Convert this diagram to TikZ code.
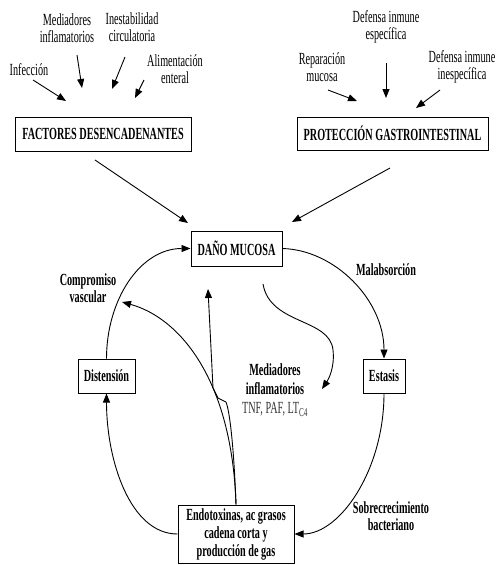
\documentclass[tikz,border=0pt]{standalone}
\usepackage{fontspec}
\setmainfont{Liberation Serif}[FakeStretch=0.6]
\usetikzlibrary{arrows.meta}
\begin{document}
\begin{tikzpicture}[x=1pt,y=-1pt,
  box/.style={draw, line width=1pt, inner sep=0pt, align=center, font=\bfseries\fontsize{17}{18}\selectfont},
  lbl/.style={align=center, inner sep=0pt, font=\fontsize{17}{17}\selectfont},
  blbl/.style={align=center, inner sep=0pt, font=\bfseries\fontsize{17}{17}\selectfont},
  arr/.style={line width=0.9pt, -{Triangle[length=9pt,width=7pt]}}]
\useasboundingbox (0,0) rectangle (497,565);

% boxes
\node[box, minimum width=176pt, minimum height=34pt] (fac) at (103,134) {FACTORES DESENCADENANTES};
\node[box, minimum width=191pt, minimum height=33pt] (pro) at (392.5,133.5) {PROTECCIÓN GASTROINTESTINAL};
\node[box, minimum width=91pt, minimum height=35pt] (dan) at (236.5,248.5) {DAÑO MUCOSA};
\node[box, minimum width=57pt, minimum height=34pt] (dis) at (106.5,376) {Distensión};
\node[box, minimum width=42pt, minimum height=34pt] (est) at (384,376) {Estasis};
\node[box, minimum width=116pt, minimum height=58pt] (end) at (236,534) {Endotoxinas, ac grasos\\cadena corta y\\producción de gas};

% labels
\node[lbl] (inf) at (29,70) {Infección};
\node[lbl] (med) at (67,28) {Mediadores\\inflamatorios};
\node[lbl] (ine) at (132,27) {Inestabilidad\\circulatoria};
\node[lbl] (ali) at (175,69) {Alimentación\\enteral};
\node[lbl] (dee) at (386,27) {Defensa inmune\\específica};
\node[lbl] (rep) at (322,67) {Reparación\\mucosa};
\node[lbl] (dei) at (462,67) {Defensa inmune\\inespecífica};
\node[blbl] (mal) at (386,270) {Malabsorción};
\node[blbl] (com) at (88,288) {Compromiso\\vascular};
\node[blbl] (sob) at (391,516) {Sobrecrecimiento\\bacteriano};
\node[align=center, inner sep=0pt, font=\fontsize{17}{19}\selectfont] (mdi) at (275,390)
  {\textbf{Mediadores}\\\textbf{inflamatorios}\\\textcolor{black!80}{TNF, PAF, LT\textsubscript{C4}}};

% coordinates for free ends
\coordinate (i1) at (33,80);   \coordinate (i2) at (66,101);
\coordinate (m1) at (77,55);   \coordinate (m2) at (82,88);
\coordinate (c1) at (125,57);  \coordinate (c2) at (112,89);
\coordinate (a1) at (144,80);  \coordinate (a2) at (135,98);
\coordinate (r1) at (328,90);  \coordinate (r2) at (357,101);
\coordinate (e1) at (386,63);  \coordinate (e2) at (386,98);
\coordinate (n1) at (440,90);  \coordinate (n2) at (416,108);
\coordinate (f1) at (95,160);  \coordinate (f2) at (188,223);
\coordinate (p1) at (390,168); \coordinate (p2) at (292,222);
\coordinate (cv) at (122,302);
\coordinate (up) at (208,289);
\coordinate (ms) at (263,284);
\coordinate (me) at (322,389);

% top arrows
\draw[arr] (i1) -- (i2);
\draw[arr] (m1) -- (m2);
\draw[arr] (c1) -- (c2);
\draw[arr] (a1) -- (a2);
\draw[arr] (r1) -- (r2);
\draw[arr] (e1) -- (e2);
\draw[arr] (n1) -- (n2);
\draw[arr] (f1) -- (f2);
\draw[arr] (p1) -- (p2);

% cycle
\draw[arr] (dan.east) .. controls (335,250) and (384,300) .. (est.north);
\draw[arr] (est.south) .. controls (384,470) and (340,534) .. (end.east);
\draw[arr] (end.west) .. controls (130,534) and (106.5,460) .. (dis.south);
\draw[arr] (dis.north) .. controls (106.5,300) and (140,248.5) .. (dan.west);

% inner arrows
\draw[arr] (end.north) .. controls (232,380) and (180,318) .. (cv);
\draw[arr] (end.north) .. controls (234,450) and (230,412) .. (226,402) -- (218,398) -- (213,388) -- (up);
\draw[arr] (ms) .. controls (270,325) and (330,318) .. (333,350) .. controls (335,368) and (328,380) .. (me);
\end{tikzpicture}
\end{document}
